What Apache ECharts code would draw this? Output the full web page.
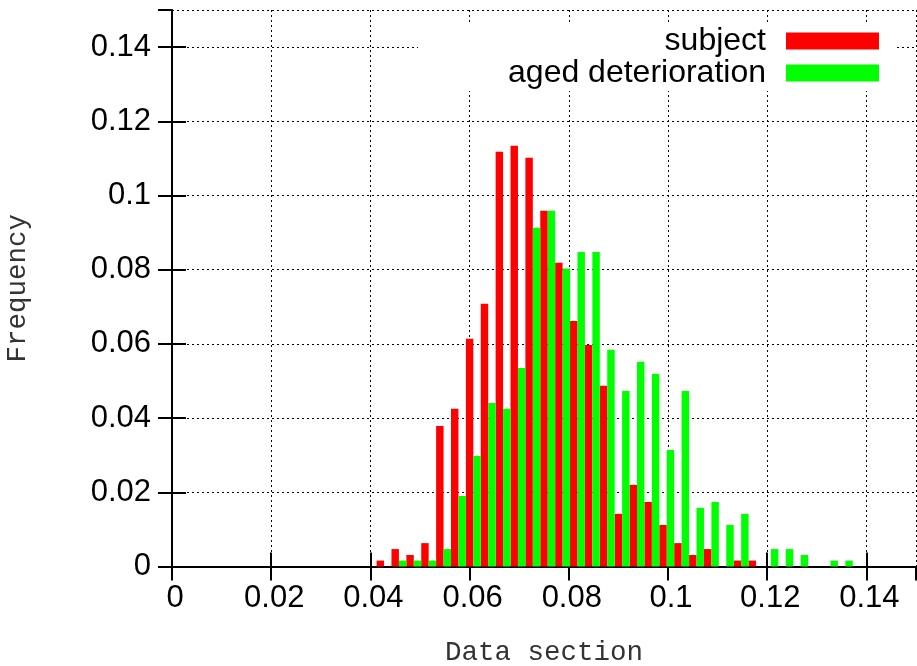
<!DOCTYPE html>
<html>
<head>
<meta charset="utf-8">
<script src="https://cdn.jsdelivr.net/npm/echarts@6/dist/echarts.min.js"></script>
<style>
  html, body { margin: 0; padding: 0; background: #fff; }
  #chart { width: 917px; height: 666px; }
</style>
</head>
<body>
<div id="chart"></div>
<script>
// bin positions (centre of the red bar of each pair)
var binX = [0.042, 0.045, 0.048, 0.051, 0.054, 0.057, 0.060, 0.063, 0.066, 0.069,
  0.072, 0.075, 0.078, 0.081, 0.084, 0.087, 0.090, 0.093, 0.096, 0.099,
  0.102, 0.105, 0.108, 0.111, 0.114, 0.117, 0.120, 0.123, 0.126, 0.129,
  0.132, 0.135];
var subject = [0.0016, 0.0047, 0.0031, 0.0063, 0.0379, 0.0425, 0.0614, 0.0708, 0.1118, 0.1134,
  0.1102, 0.0959, 0.0819, 0.0662, 0.0597, 0.0487, 0.0142, 0.0220, 0.0174, 0.0112,
  0.0063, 0.0031, 0.0047, 0, 0.0016, 0.0016, 0, 0, 0, 0,
  0, 0];
var aged = [0, 0.0016, 0.0016, 0.0016, 0.0047, 0.0190, 0.0298, 0.0441, 0.0425, 0.0535,
  0.0913, 0.0959, 0.0803, 0.0848, 0.0848, 0.0584, 0.0473, 0.0552, 0.0519, 0.0314,
  0.0473, 0.0158, 0.0174, 0.0112, 0.0142, 0, 0.0047, 0.0047, 0.0031, 0,
  0.0016, 0.0016];
var xTicks = ["0", "0.02", "0.04", "0.06", "0.08", "0.1", "0.12", "0.14"];
var yTicks = ["0", "0.02", "0.04", "0.06", "0.08", "0.1", "0.12", "0.14"];

var BAR_W = 0.0015;
var SANS = "Liberation Sans, Arial, sans-serif";
var MONO = "Liberation Mono, Courier New, monospace";

function pairs(vals) {
  var out = [];
  for (var i = 0; i < binX.length; i++) {
    out.push([binX[i], vals[i]]);
  }
  return out;
}

// boxes of width BAR_W, shifted right by offset
function boxes(offset) {
  return function (params, api) {
    var x = api.value(0) + offset;
    var p1 = api.coord([x - BAR_W / 2, api.value(1)]);
    var p2 = api.coord([x + BAR_W / 2, 0]);
    return {
      type: "rect",
      shape: { x: p1[0], y: p1[1], width: p2[0] - p1[0], height: p2[1] - p1[1] },
      style: api.style()
    };
  };
}

function tickLabel(list) {
  return function (v) {
    var i = Math.round(v / 0.02);
    return list[i] !== undefined ? list[i] : "";
  };
}

var dotted = { color: "#000", width: 1, type: [2, 3] };
var border = { show: true, lineStyle: { color: "#000", width: 2 } };
var ticks = { show: true, inside: true, length: 14, lineStyle: { color: "#000", width: 2 } };

var chart = echarts.init(document.getElementById("chart"));
chart.setOption({
  backgroundColor: "#fff",
  animation: false,
  grid: { left: 172, right: 1, top: 10, bottom: 99.5, containLabel: false, outerBoundsMode: "none" },
  legend: {
    data: ["subject", "aged deterioration"],
    orient: "vertical",
    align: "right",
    right: 20,
    top: 25,
    padding: [0, 18, 2, 90],
    itemGap: 0,
    itemWidth: 93,
    itemHeight: 17,
    icon: "rect",
    backgroundColor: "#fff",
    textStyle: { fontSize: 32, fontFamily: SANS, color: "#000", lineHeight: 32, padding: [0, 15, 0, 0] }
  },
  xAxis: [
    {
      type: "value", min: 0, max: 0.15, interval: 0.02,
      name: "Data section", nameLocation: "middle", nameGap: 72,
      nameTextStyle: { fontFamily: MONO, fontSize: 27.5, color: "#333" },
      axisLine: border, axisTick: ticks,
      axisLabel: {
        fontFamily: SANS, fontSize: 31, color: "#000", margin: 16, padding: [0, 0, 0, 6],
        showMaxLabel: false, formatter: tickLabel(xTicks)
      },
      splitLine: { show: true, lineStyle: dotted }
    },
    {
      type: "value", position: "top", min: 0, max: 0.15, interval: 0.02,
      axisLine: border, axisTick: ticks, axisLabel: { show: false }, splitLine: { show: false }
    }
  ],
  yAxis: [
    {
      type: "value", min: 0, max: 0.15, interval: 0.02,
      name: "Frequency", nameLocation: "middle", nameGap: 140, nameRotate: 90,
      nameTextStyle: { fontFamily: MONO, fontSize: 27.5, color: "#333" },
      axisLine: border, axisTick: ticks,
      axisLabel: { fontFamily: SANS, fontSize: 31, color: "#000", margin: 21, showMaxLabel: false, formatter: tickLabel(yTicks) },
      splitLine: { show: true, lineStyle: dotted }
    },
    {
      type: "value", position: "right", min: 0, max: 0.15, interval: 0.02,
      axisLine: border, axisTick: ticks, axisLabel: { show: false }, splitLine: { show: false }
    }
  ],
  series: [
    {
      name: "subject", type: "custom", xAxisIndex: 0, yAxisIndex: 0,
      itemStyle: { color: "#ff0000" },
      renderItem: boxes(0),
      encode: { x: 0, y: 1 },
      data: pairs(subject)
    },
    {
      name: "aged deterioration", type: "custom", xAxisIndex: 0, yAxisIndex: 0,
      itemStyle: { color: "#00ff00" },
      renderItem: boxes(BAR_W),
      encode: { x: 0, y: 1 },
      data: pairs(aged)
    }
  ]
});
</script>
</body>
</html>
